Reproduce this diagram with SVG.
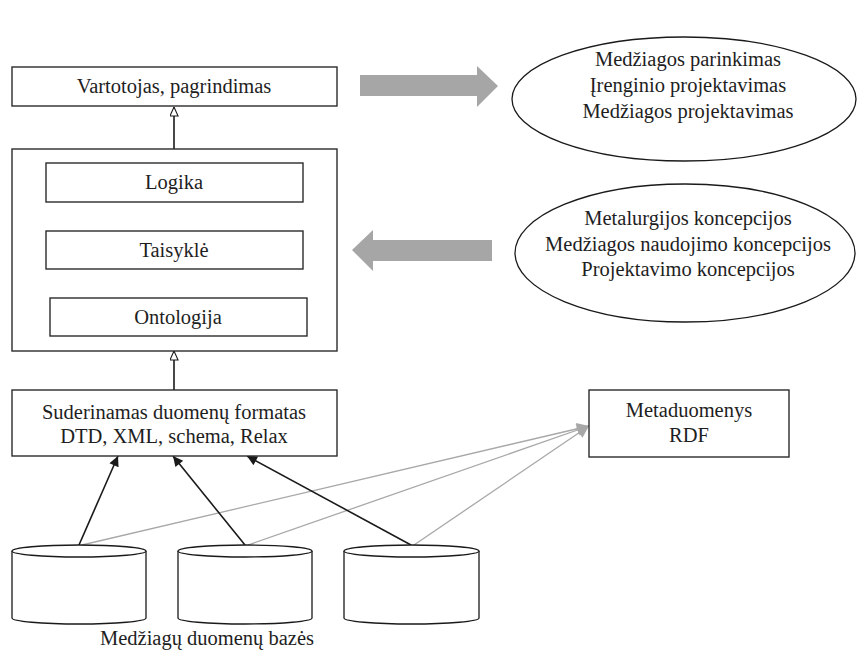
<svg xmlns="http://www.w3.org/2000/svg" width="857" height="662" viewBox="0 0 857 662">
  <style>
    .box { fill: #ffffff; stroke: #2b2b2b; stroke-width: 1.4; }
    .shape { fill: #ffffff; stroke: #1a1a1a; stroke-width: 1.3; }
    .lbl { font-family: "Liberation Serif", "Times New Roman", serif; font-size: 20.5px; fill: #1e1e1e; text-anchor: middle; }
    .link { fill: none; stroke: #1a1a1a; stroke-width: 1.6; }
    .meta { fill: none; stroke: #a8a8a8; stroke-width: 1.3; }
    .flow { fill: #a6a6a6; }
  </style>
  <defs>
    <marker id="hollow" viewBox="0 0 10 10" refX="10" refY="5" markerWidth="10" markerHeight="9" markerUnits="userSpaceOnUse" orient="auto">
      <path d="M0,0.5 L10,5 L0,9.5 Z" fill="#ffffff" stroke="#1a1a1a" stroke-width="1.2"/>
    </marker>
    <marker id="solid" viewBox="0 0 10 10" refX="10" refY="5" markerWidth="12" markerHeight="10" markerUnits="userSpaceOnUse" orient="auto">
      <path d="M0,0 L10,5 L0,10 Z" fill="#1a1a1a"/>
    </marker>
    <marker id="grey" viewBox="0 0 10 10" refX="10" refY="5" markerWidth="14" markerHeight="12" markerUnits="userSpaceOnUse" orient="auto">
      <path d="M0,0 L10,5 L0,10 Z" fill="#a8a8a8"/>
    </marker>
    <linearGradient id="fadeR" x1="0" y1="0" x2="1" y2="0">
      <stop offset="0" stop-color="#d4d4d4"/>
      <stop offset="0.07" stop-color="#a6a6a6"/>
      <stop offset="1" stop-color="#a6a6a6"/>
    </linearGradient>
    <linearGradient id="fadeL" x1="1" y1="0" x2="0" y2="0">
      <stop offset="0" stop-color="#d4d4d4"/>
      <stop offset="0.07" stop-color="#a6a6a6"/>
      <stop offset="1" stop-color="#a6a6a6"/>
    </linearGradient>
  </defs>

  <!-- connectors -->
  <g id="connectors">
    <line class="link" x1="174" y1="149" x2="174" y2="107" marker-end="url(#hollow)" stroke-width="1.3"/>
    <line class="link" x1="174" y1="390" x2="174" y2="351" marker-end="url(#hollow)" stroke-width="1.3"/>
    <line class="meta" x1="82" y1="545" x2="589" y2="426" marker-end="url(#grey)"/>
    <line class="meta" x1="248" y1="545" x2="589" y2="426" marker-end="url(#grey)"/>
    <line class="meta" x1="414" y1="545" x2="589" y2="426" marker-end="url(#grey)"/>
    <line class="link" x1="79" y1="545" x2="118" y2="456" marker-end="url(#solid)"/>
    <line class="link" x1="245" y1="545" x2="173" y2="456" marker-end="url(#solid)"/>
    <line class="link" x1="411" y1="545" x2="247" y2="456" marker-end="url(#solid)"/>
    <!-- broad flow arrows -->
    <path class="flow" fill="url(#fadeR)" d="M360,75 L477,75 L477,66 L498,86 L477,107 L477,96 L360,96 Z"/>
    <path class="flow" fill="url(#fadeL)" d="M492,240 L373,240 L373,230 L352,250 L373,271 L373,261 L492,261 Z"/>
  </g>

  <g id="user">
    <rect class="box" x="12" y="67" width="325" height="39"/>
    <text class="lbl" x="174" y="93">Vartotojas, pagrindimas</text>
  </g>

  <g id="reasoning">
    <rect class="box" x="12" y="149" width="325" height="202"/>
  </g>
  <g id="logic">
    <rect class="box" x="46" y="163" width="257" height="39"/>
    <text class="lbl" x="174" y="189">Logika</text>
  </g>
  <g id="rules">
    <rect class="box" x="46" y="231" width="257" height="38"/>
    <text class="lbl" x="174" y="257">Taisyklė</text>
  </g>
  <g id="ontology">
    <rect class="box" x="50" y="298" width="257" height="38"/>
    <text class="lbl" x="178" y="324">Ontologija</text>
  </g>

  <g id="format">
    <rect class="box" x="12" y="390" width="325" height="66"/>
    <text class="lbl" x="174" y="419">Suderinamas duomenų formatas</text>
    <text class="lbl" x="174" y="443">DTD, XML, schema, Relax</text>
  </g>

  <g id="metadata">
    <rect class="box" x="589" y="390" width="200" height="67"/>
    <text class="lbl" x="689" y="417">Metaduomenys</text>
    <text class="lbl" x="689" y="442">RDF</text>
  </g>

  <g id="applications">
    <ellipse class="shape" cx="684" cy="99" rx="172" ry="62"/>
    <text class="lbl" x="688" y="66">Medžiagos parinkimas</text>
    <text class="lbl" x="688" y="92">Įrenginio projektavimas</text>
    <text class="lbl" x="688" y="118">Medžiagos projektavimas</text>
  </g>

  <g id="concepts">
    <ellipse class="shape" cx="685" cy="253" rx="170" ry="69"/>
    <text class="lbl" x="688" y="225">Metalurgijos koncepcijos</text>
    <text class="lbl" x="688" y="251">Medžiagos naudojimo koncepcijos</text>
    <text class="lbl" x="688" y="276">Projektavimo koncepcijos</text>
  </g>

  <g id="db1">
    <path class="shape" d="M12,551 L12,618 A67,6 0 0 0 146,618 L146,551"/>
    <ellipse class="shape" cx="79" cy="551" rx="67" ry="6"/>
  </g>
  <g id="db2">
    <path class="shape" d="M178,551 L178,618 A67,6 0 0 0 312,618 L312,551"/>
    <ellipse class="shape" cx="245" cy="551" rx="67" ry="6"/>
  </g>
  <g id="db3">
    <path class="shape" d="M344,551 L344,618 A67.5,6 0 0 0 479,618 L479,551"/>
    <ellipse class="shape" cx="411.5" cy="551" rx="67.5" ry="6"/>
  </g>

  <text class="lbl" x="207" y="645">Medžiagų duomenų bazės</text>
</svg>
